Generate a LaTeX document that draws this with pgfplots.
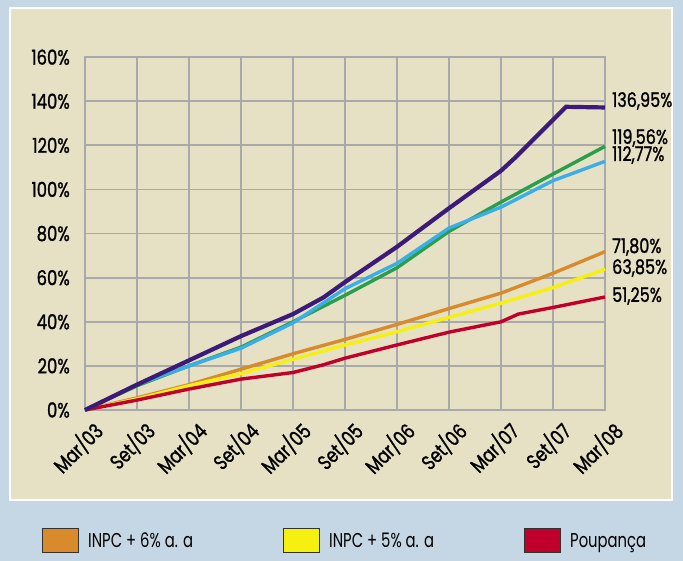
\documentclass[border=0pt]{standalone}
\usepackage{pgfplots}
\pgfplotsset{compat=1.18}
\usepackage{fontspec}
\setmainfont{Poppins}[FakeStretch=0.74]
\newfontfamily\tickfont{Poppins}[FakeStretch=0.80, FakeBold=1.2]
\definecolor{outerbg}{HTML}{C5D6E4}
\definecolor{panel}{HTML}{E6E0C4}
\definecolor{gridc}{HTML}{A9A9A9}
\definecolor{purp}{HTML}{3B1A78}
\definecolor{grn}{HTML}{2A9E48}
\definecolor{blu}{HTML}{3AAEE8}
\definecolor{orng}{HTML}{D98A2A}
\definecolor{yel}{HTML}{F5F010}
\definecolor{rd}{HTML}{C0002A}
\begin{document}
\begin{tikzpicture}
\useasboundingbox (0pt,0pt) rectangle (683pt,561pt);
\fill[outerbg] (0pt,0pt) rectangle (683pt,561pt);
\filldraw[fill=panel, draw=white, line width=1.5pt] (10pt,61pt) rectangle (672pt,553pt);
\begin{axis}[
  at={(85pt,151pt)}, anchor=south west,
  width=520pt, height=352.8pt, scale only axis,
  xmin=0, xmax=60, ymin=0, ymax=160,
  clip=false,
  axis line style={draw=gridc, line width=1.8pt},
  grid=major, grid style={draw=gridc, line width=1.8pt},
  major tick length=0pt,
  xtick={0,6,...,60},
  xticklabels={Mar/03,Set/03,Mar/04,Set/04,Mar/05,Set/05,Mar/06,Set/06,Mar/07,Set/07,Mar/08},
  ytick={0,20,...,160},
  yticklabels={0\%,20\%,40\%,60\%,80\%,100\%,120\%,140\%,160\%},
  /pgf/number format/assume math mode=true,
  ticklabel style={font=\tickfont\fontsize{20.5}{21}\selectfont},
  yticklabel style={anchor=east, inner sep=0pt, xshift=-15pt},
  xticklabel style={xshift=14pt, yshift=-17pt, rotate=45, anchor=east, inner sep=0pt},
  legend style={at={(-0.0827,-0.3713)}, anchor=west, draw=none, fill=none,
    inner sep=0pt, nodes={inner sep=0pt, anchor=west}, /tikz/column sep=0pt,
    font=\fontsize{20}{21}\selectfont},
  legend columns=3, legend cell align=left,
]
\addplot[orng, line width=3.4pt, legend image code/.code={\draw[fill=orng, draw=black!80, line width=1pt] (0pt,-12pt) rectangle (36pt,12pt);}] coordinates {
(0,0) (6,5.5) (12,11.5) (18,18.5) (24,25.5) (30,32) (36,38.8) (42,46) (48,53) (54,62) (60,71.8)};
\addlegendentry{\hspace*{9pt}\makebox[195pt][l]{INPC + 6\% a. a}}
\addplot[yel, line width=3.4pt, legend image code/.code={\draw[fill=yel, draw=black!80, line width=1pt] (0pt,-12pt) rectangle (36pt,12pt);}] coordinates {
(0,0) (6,5) (12,11) (18,16.5) (24,23) (30,29.5) (36,35.5) (42,42) (48,48.5) (54,55.5) (60,63.85)};
\addlegendentry{\hspace*{9pt}\makebox[195pt][l]{INPC + 5\% a. a}}
\addplot[rd, line width=3.4pt, legend image code/.code={\draw[fill=rd, draw=black!80, line width=1pt] (0pt,-12pt) rectangle (36pt,12pt);}] coordinates {
(0,0) (6,4.5) (12,9.5) (18,14) (24,17) (27.5,20.5) (30,23.5) (36,29.5) (42,35.3) (48,40) (50,43.5) (54,46.5) (60,51.25)};
\addlegendentry{\hspace*{9pt}Poupança}
\addplot[grn, line width=3.4pt, forget plot] coordinates {
(0,0) (6,11) (12,20) (18,28.5) (24,40) (30,52) (36,64.5) (42,81) (48,94.3) (54,107) (60,119.56)};
\addplot[blu, line width=3.4pt, forget plot] coordinates {
(0,0) (6,11.5) (12,20) (18,28) (24,39.5) (30,55) (36,66.5) (42,82.5) (48,92) (54,104) (60,112.77)};
\addplot[purp, line width=4.2pt, forget plot] coordinates {
(0,0) (6,11.5) (12,22.5) (18,33.5) (24,43.5) (27.5,51) (30,58) (36,74) (42,91.5) (48,108.5) (49.6,114.3) (55.5,137.5) (60,137.2)};
\end{axis}
\begin{scope}[every node/.style={anchor=west, inner sep=0pt, font=\tickfont\fontsize{20}{21}\selectfont}]
\node at (612pt,460pt) {136,95\%};
\node at (612pt,423pt) {119,56\%};
\node at (612pt,406pt) {112,77\%};
\node at (612pt,314pt) {71,80\%};
\node at (612pt,293pt) {63,85\%};
\node at (612pt,265pt) {51,25\%};
\end{scope}
\end{tikzpicture}
\end{document}
